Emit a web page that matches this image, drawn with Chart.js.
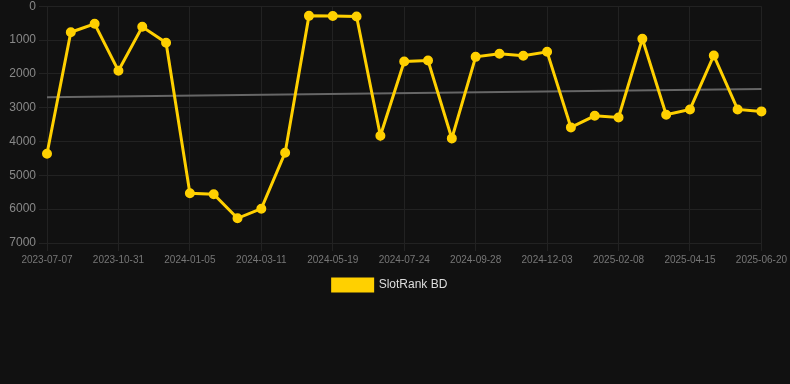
<!DOCTYPE html>
<html>
<head>
<meta charset="utf-8">
<script src="https://cdn.jsdelivr.net/npm/chart.js@4/dist/chart.umd.min.js"></script>
<style>
  html, body { margin: 0; padding: 0; background: #111111; overflow: hidden; }
  #wrap { width: 790px; height: 305px; position: relative; margin-top: -4px; }
</style>
</head>
<body>
<div id="wrap"><canvas id="c"></canvas></div>
<script>
const categories = [
  "2023-07-07","2023-08-15","2023-09-22","2023-10-31","2023-11-22","2023-12-14",
  "2024-01-05","2024-01-27","2024-02-18","2024-03-11","2024-04-03","2024-04-26",
  "2024-05-19","2024-06-10","2024-07-02","2024-07-24","2024-08-15","2024-09-06",
  "2024-09-28","2024-10-20","2024-11-11","2024-12-03","2024-12-25","2025-01-17",
  "2025-02-08","2025-03-02","2025-03-24","2025-04-15","2025-05-07","2025-05-29",
  "2025-06-20"
];
const rankValues = [
  4360, 770, 520, 1910, 610, 1080,
  5530, 5560, 6270, 5985, 4330, 286,
  290, 305, 3830, 1635, 1605, 3908,
  1497, 1408, 1467, 1349, 3583, 3240,
  3288, 965, 3210, 3052, 1457, 3052,
  3110
];
const trendStart = 2690;
const trendEnd = 2450;
const trendValues = categories.map((_, i) => i === 0 ? trendStart : (i === categories.length - 1 ? trendEnd : null));
const yTicks = [0, 1000, 2000, 3000, 4000, 5000, 6000, 7000];

new Chart(document.getElementById('c'), {
  type: 'line',
  data: {
    labels: categories,
    datasets: [
      {
        label: 'SlotRank BD',
        data: rankValues,
        borderColor: '#FFD000',
        backgroundColor: '#FFD000',
        borderWidth: 3,
        pointRadius: 4,
        pointBorderWidth: 2,
        pointHoverRadius: 4,
        pointBackgroundColor: '#FFD000',
        pointBorderColor: '#FFD000',
        tension: 0,
        order: 1
      },
      {
        label: 'trend',
        data: trendValues,
        spanGaps: true,
        borderColor: '#666666',
        backgroundColor: '#666666',
        borderWidth: 2,
        pointRadius: 0,
        tension: 0,
        order: 2
      }
    ]
  },
  options: {
    responsive: true,
    maintainAspectRatio: false,
    animation: false,
    layout: { padding: { left: 0, right: 10, top: 0, bottom: 0 } },
    plugins: {
      legend: {
        position: 'bottom',
        labels: {
          color: '#dddddd',
          font: { family: 'Arial, "Liberation Sans", sans-serif', size: 12 },
          boxWidth: 40,
          boxHeight: 12,
          filter: (item) => item.text !== 'trend'
        }
      },
      tooltip: { enabled: false }
    },
    scales: {
      x: {
        grid: { color: '#222222', drawTicks: true },
        border: { display: false },
        ticks: {
          color: '#777777',
          font: { family: 'Arial, "Liberation Sans", sans-serif', size: 10 },
          autoSkip: false,
          maxRotation: 0,
          callback: function(v, i) { return i % 3 === 0 ? categories[i] : null; }
        }
      },
      y: {
        reverse: true,
        min: 0,
        max: 7000,
        grid: { color: '#222222' },
        border: { display: false },
        afterFit: (axis) => { axis.width = 47; },
        afterBuildTicks: (axis) => { axis.ticks = yTicks.map(v => ({ value: v })); },
        ticks: {
          color: '#888888',
          font: { family: 'Arial, "Liberation Sans", sans-serif', size: 12 },
          callback: (v) => String(v)
        }
      }
    }
  }
});
</script>
</body>
</html>
